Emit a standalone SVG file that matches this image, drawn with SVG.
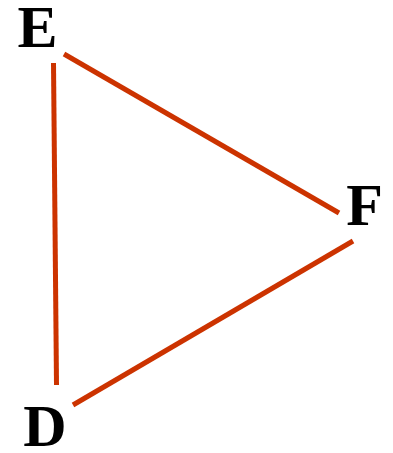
<svg xmlns="http://www.w3.org/2000/svg" width="393" height="453" viewBox="0 0 393 453">
<style>
.lbl{font-family:"Liberation Serif","Times New Roman",serif;font-weight:bold;font-size:60px;fill:#000;text-anchor:middle}
.edge{stroke:#CC3300;stroke-width:5;fill:none}
</style>
<rect width="393" height="453" fill="#fff"/>
<g id="connectors">
<line class="edge" x1="53.5" y1="63" x2="56.5" y2="385"/>
<line class="edge" x1="64" y1="54" x2="339" y2="213"/>
<line class="edge" x1="353" y1="241" x2="73" y2="405"/>
</g>
<g id="node-E"><text class="lbl" x="37.5" y="47">E</text></g>
<g id="node-F"><text class="lbl" x="364.5" y="225">F</text></g>
<g id="node-D"><text class="lbl" x="45" y="446">D</text></g>
</svg>
